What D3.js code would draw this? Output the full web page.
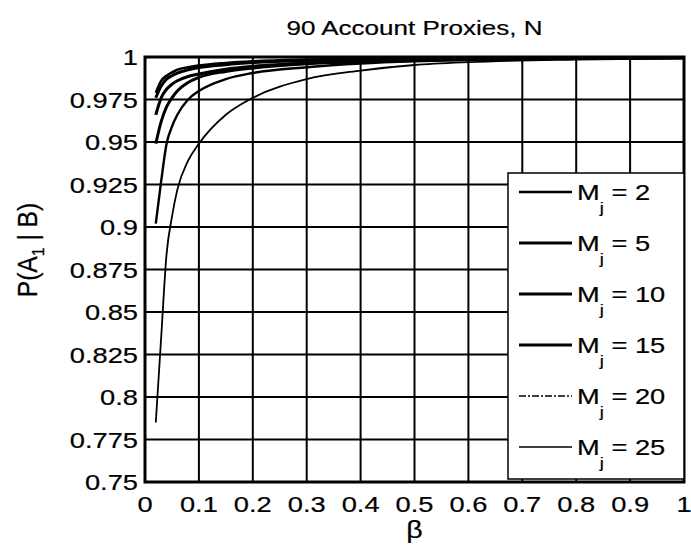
<!DOCTYPE html>
<html lang="en">
  <head>
    <meta charset="UTF-8" />
    <title>90 Account Proxies</title>
    <style>
  body { margin: 0; background: #fff; }
  text { font-family: "Liberation Sans", Arial, sans-serif; fill: #000; stroke: #000; stroke-width: 0.2px; }
</style>
  </head>
  <body>
<div class="chart"></div>
  <script src="https://cdn.jsdelivr.net/npm/d3@7/dist/d3.min.js"></script>
    <script>

    var betaVals = [0.02, 0.03, 0.04, 0.05, 0.06, 0.08, 0.1, 0.15, 0.2, 0.3, 0.4, 0.5, 0.6, 0.8, 1.0];

    var mValues = [2, 5, 10, 15, 20, 25];

    var pM2  = [0.979, 0.986, 0.989, 0.991, 0.9925, 0.994, 0.995, 0.9965, 0.9975, 0.9985, 0.999, 0.9993, 0.9995, 0.9997, 0.9998];
    var pM5  = [0.976, 0.983, 0.987, 0.989, 0.9905, 0.9925, 0.9938, 0.9955, 0.9967, 0.998, 0.9986, 0.999, 0.9993, 0.9996, 0.9997];
    var pM10 = [0.966, 0.976, 0.981, 0.984, 0.986, 0.9885, 0.990, 0.9928, 0.9945, 0.9965, 0.9976, 0.9983, 0.9987, 0.9992, 0.9995];
    var pM15 = [0.949, 0.962, 0.9706, 0.976, 0.980, 0.985, 0.988, 0.9915, 0.9935, 0.996, 0.9972, 0.998, 0.9985, 0.9991, 0.9994];
    var pM20 = [0.902, 0.927, 0.949, 0.959, 0.966, 0.975, 0.980, 0.987, 0.9906, 0.994, 0.9962, 0.9975, 0.9983, 0.9991, 0.9995];
    var pM25 = [0.785, 0.835, 0.884, 0.906, 0.922, 0.939, 0.949, 0.966, 0.976, 0.987, 0.992, 0.9953, 0.997, 0.9985, 0.9992];

    var seriesVals = [pM2, pM5, pM10, pM15, pM20, pM25];

    var xTicks = [0, 0.1, 0.2, 0.3, 0.4, 0.5, 0.6, 0.7, 0.8, 0.9, 1];
    var yTicks = [0.75, 0.775, 0.8, 0.825, 0.85, 0.875, 0.9, 0.925, 0.95, 0.975, 1];

    var width = 691;
    var height = 550;
    var margin = { top: 57, bottom: 68, left: 145, right: 7 };
    var sx = 1.24; // the scan is stretched sideways

    var lineWidths = [2.5, 3, 3, 3, 2.4, 1.8];
    var legWidths = [2.5, 3, 3, 3, 1.6, 1.6];
    var legDash = [null, null, null, null, "7,2,2,2", null];

    var svg = d3.select(".chart")
      .append("svg")
      .attr("width", width)
      .attr("height", height);

    var x = d3.scaleLinear().domain([0, 1]).range([margin.left, width - margin.right]);
    var y = d3.scaleLinear().domain([0.75, 1]).range([height - margin.bottom, margin.top]);

    function stretchText(g, px, py, str, size, anchor) {
      return g.append("text")
        .attr("transform", "translate(" + px + "," + py + ") scale(" + sx + ",1)")
        .attr("text-anchor", anchor)
        .style("font-size", size + "px")
        .text(str);
    }

    // grid
    var grid = svg.append("g");
    grid.selectAll("line.vx")
      .data(xTicks.slice(1, -1))
      .enter()
      .append("line")
      .attr("x1", function(d){ return x(d); })
      .attr("x2", function(d){ return x(d); })
      .attr("y1", y(0.75))
      .attr("y2", y(1))
      .attr("stroke", "#000")
      .attr("stroke-width", 2);
    grid.selectAll("line.hy")
      .data(yTicks.slice(1, -1))
      .enter()
      .append("line")
      .attr("y1", function(d){ return y(d); })
      .attr("y2", function(d){ return y(d); })
      .attr("x1", x(0))
      .attr("x2", x(1))
      .attr("stroke", "#000")
      .attr("stroke-width", 2);

    // curves
    svg.append("clipPath").attr("id", "clip")
      .append("rect")
      .attr("x", x(0)).attr("y", y(1))
      .attr("width", x(1) - x(0)).attr("height", y(0.75) - y(1));

    var line = d3.line()
      .x(function(d){ return x(d[0]); })
      .y(function(d){ return y(d[1]); })
      .curve(d3.curveMonotoneX);

    svg.append("g").attr("clip-path", "url(#clip)")
      .selectAll("path")
      .data(seriesVals)
      .enter()
      .append("path")
      .attr("d", function(vals){
        return line(vals.map(function(v, i){ return [betaVals[i], v]; }));
      })
      .attr("fill", "none")
      .attr("stroke", "#000")
      .attr("stroke-width", function(d, i){ return lineWidths[i]; });

    // axes box
    svg.append("rect")
      .attr("x", x(0)).attr("y", y(1))
      .attr("width", x(1) - x(0)).attr("height", y(0.75) - y(1))
      .attr("fill", "none")
      .attr("stroke", "#000")
      .attr("stroke-width", 3);

    // tick labels
    var labels = svg.append("g");
    xTicks.forEach(function(t){
      stretchText(labels, x(t), 512, d3.format("")(t), 22, "middle");
    });
    yTicks.forEach(function(t){
      stretchText(labels, 138, y(t) + 8, d3.format("")(t), 22, "end");
    });

    // title and axis labels
    stretchText(svg, (x(0) + x(1)) / 2, 35, "90 Account Proxies, N", 21, "middle");
    stretchText(svg, (x(0) + x(1)) / 2, 538, "\u03b2", 23, "middle");

    var ylab = svg.append("text")
      .attr("transform", "translate(37,250) rotate(-90) scale(1.12," + sx + ")")
      .attr("text-anchor", "middle")
      .style("font-size", "22px");
    ylab.append("tspan").text("P(A");
    ylab.append("tspan").attr("dy", 6).style("font-size", "14px").text("1");
    ylab.append("tspan").attr("dy", -6).text(" | B)");

    // legend
    var legend = svg.append("g");
    legend.append("rect")
      .attr("x", 508).attr("y", 173)
      .attr("width", x(1) - 508).attr("height", 306)
      .attr("fill", "#fff")
      .attr("stroke", "#000")
      .attr("stroke-width", 1.5);

    mValues.forEach(function(m, i){
      var ry = 192 + i * 51;
      legend.append("line")
        .attr("x1", 519).attr("x2", 572)
        .attr("y1", ry).attr("y2", ry)
        .attr("stroke", "#000")
        .attr("stroke-width", legWidths[i])
        .attr("stroke-dasharray", legDash[i]);
      var t = legend.append("text")
        .attr("transform", "translate(577," + (ry + 8) + ") scale(" + sx + ",1)")
        .style("font-size", "22px");
      t.append("tspan").text("M");
      t.append("tspan").attr("dy", 13).style("font-size", "15px").text("j");
      t.append("tspan").attr("dy", -13).text(" = " + m);
    });

    </script>
  </body>
</html>
